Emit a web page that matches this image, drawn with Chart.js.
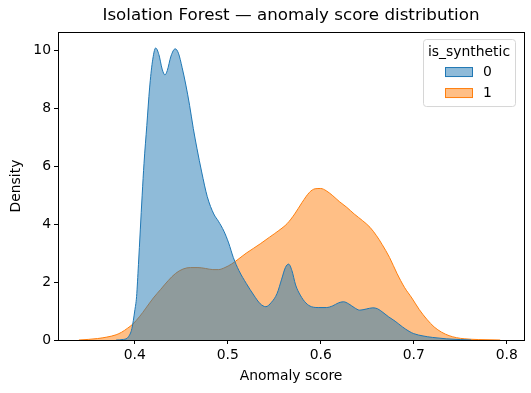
<!DOCTYPE html>
<html>
<head>
<meta charset="utf-8">
<script src="https://cdn.jsdelivr.net/npm/chart.js@4.4.0/dist/chart.umd.min.js"></script>
<style>
  html, body { margin: 0; padding: 0; background: #fff; }
  #wrap { width: 531px; height: 393px; }
</style>
</head>
<body>
<div id="wrap"><canvas id="kde-chart" width="531" height="393"></canvas></div>
<script>
// KDE curves (x = anomaly score, y = density)
const realScores = [0.380, 0.388, 0.393, 0.397, 0.400, 0.402, 0.404, 0.406, 0.408, 0.410, 0.413, 0.416, 0.419, 0.4225, 0.426, 0.4295, 0.4325, 0.435, 0.439, 0.4435, 0.447, 0.451, 0.455, 0.459, 0.463, 0.467, 0.472, 0.478, 0.485, 0.490, 0.496, 0.501, 0.506, 0.512, 0.520, 0.528, 0.535, 0.541, 0.547, 0.553, 0.558, 0.562, 0.5655, 0.569, 0.573, 0.578, 0.584, 0.590, 0.598, 0.606, 0.613, 0.619, 0.6245, 0.630, 0.636, 0.642, 0.649, 0.656, 0.661, 0.667, 0.673, 0.680, 0.688, 0.695, 0.700, 0.710, 0.720, 0.735, 0.750, 0.762];
const realDensity = [0, 0.02, 0.1, 0.4, 1.0, 1.5, 2.6, 3.8, 5.0, 6.1, 7.4, 8.7, 9.6, 10.08, 9.85, 9.35, 9.15, 9.3, 9.8, 10.05, 9.9, 9.4, 8.8, 8.1, 7.3, 6.6, 5.8, 4.95, 4.35, 4.1, 3.75, 3.35, 2.85, 2.4, 1.95, 1.55, 1.25, 1.15, 1.3, 1.6, 2.1, 2.5, 2.62, 2.4, 1.9, 1.55, 1.28, 1.15, 1.12, 1.12, 1.18, 1.28, 1.32, 1.25, 1.12, 1.03, 1.07, 1.11, 1.08, 0.95, 0.8, 0.65, 0.45, 0.3, 0.22, 0.14, 0.09, 0.04, 0.015, 0];

const synthScores = [0.340, 0.350, 0.360, 0.370, 0.380, 0.386, 0.392, 0.398, 0.405, 0.412, 0.420, 0.428, 0.436, 0.444, 0.452, 0.460, 0.468, 0.476, 0.484, 0.490, 0.497, 0.504, 0.511, 0.520, 0.528, 0.535, 0.545, 0.555, 0.564, 0.572, 0.580, 0.588, 0.594, 0.600, 0.606, 0.613, 0.620, 0.628, 0.636, 0.645, 0.653, 0.660, 0.666, 0.674, 0.682, 0.690, 0.698, 0.706, 0.714, 0.722, 0.730, 0.738, 0.746, 0.755, 0.770, 0.793];
const synthDensity = [0, 0.02, 0.05, 0.1, 0.18, 0.27, 0.4, 0.55, 0.8, 1.1, 1.45, 1.75, 2.05, 2.3, 2.45, 2.5, 2.5, 2.47, 2.43, 2.43, 2.5, 2.62, 2.78, 3.0, 3.17, 3.32, 3.55, 3.78, 4.02, 4.35, 4.75, 5.1, 5.22, 5.23, 5.15, 4.98, 4.78, 4.58, 4.35, 4.12, 3.89, 3.6, 3.3, 2.85, 2.3, 1.82, 1.45, 1.05, 0.72, 0.45, 0.27, 0.15, 0.08, 0.04, 0.015, 0];

const hueLabels = ['0', '1'];
const xTicks = [0.4, 0.5, 0.6, 0.7, 0.8];
const yTicks = [0, 2, 4, 6, 8, 10];

const blue = 'rgb(31,119,180)';
const orange = 'rgb(255,127,14)';
const font = 'DejaVu Sans';

const toPoints = (xs, ys) => xs.map((x, i) => ({ x: x, y: ys[i] }));

// frame on all four sides, like matplotlib spines
const frame = {
  id: 'frame',
  afterDatasetsDraw(chart) {
    const a = chart.chartArea, ctx = chart.ctx;
    ctx.save();
    ctx.strokeStyle = '#000';
    ctx.lineWidth = 1;
    ctx.strokeRect(Math.round(a.left) + 0.5, Math.round(a.top) + 0.5, Math.round(a.right - a.left), Math.round(a.bottom - a.top));
    ctx.restore();
  }
};

// legend box inside the axes, top right
const boxLegend = {
  id: 'boxLegend',
  afterDraw(chart) {
    const a = chart.chartArea, ctx = chart.ctx;
    const w = 92, h = 67;
    const x0 = a.right - 9 - w, y0 = a.top + 7;
    ctx.save();
    ctx.fillStyle = 'rgba(255,255,255,0.8)';
    ctx.strokeStyle = '#d6d6d6';
    ctx.lineWidth = 1;
    ctx.beginPath();
    ctx.roundRect(x0 + 0.5, y0 + 0.5, w, h, 3);
    ctx.fill();
    ctx.stroke();
    ctx.fillStyle = '#000';
    ctx.font = '13.9px "' + font + '"';
    ctx.textAlign = 'center';
    ctx.textBaseline = 'middle';
    ctx.fillText('is_synthetic', x0 + w / 2, y0 + 13);
    const colors = [blue, orange];
    hueLabels.forEach((lab, i) => {
      const cy = y0 + 33 + i * 21;
      ctx.fillStyle = colors[i].replace('rgb', 'rgba').replace(')', ',0.5)');
      ctx.fillRect(x0 + 22.5, cy - 4.5, 27, 9);
      ctx.strokeStyle = colors[i];
      ctx.strokeRect(x0 + 22.5, cy - 4.5, 27, 9);
      ctx.fillStyle = '#000';
      ctx.textAlign = 'left';
      ctx.fillText(lab, x0 + 60, cy);
    });
    ctx.restore();
  }
};

const options = {
  type: 'line',
  data: {
    datasets: [
      {
        label: hueLabels[1],
        data: toPoints(synthScores, synthDensity),
        borderColor: orange,
        backgroundColor: 'rgba(255,127,14,0.5)',
        borderWidth: 1,
        fill: 'origin',
        pointRadius: 0,
        cubicInterpolationMode: 'monotone',
        order: 2
      },
      {
        label: hueLabels[0],
        data: toPoints(realScores, realDensity),
        borderColor: blue,
        backgroundColor: 'rgba(31,119,180,0.5)',
        borderWidth: 1,
        fill: 'origin',
        pointRadius: 0,
        cubicInterpolationMode: 'monotone',
        order: 1
      }
    ]
  },
  options: {
    responsive: false,
    animation: false,
    layout: { padding: { left: 0, right: 7, top: 0, bottom: 0 } },
    plugins: {
      legend: { display: false },
      tooltip: { enabled: false },
      title: {
        display: true,
        text: 'Isolation Forest — anomaly score distribution',
        color: '#000',
        fullSize: false,
        font: { family: font, size: 16.7, weight: 'normal' },
        padding: { top: 6, bottom: 6 }
      }
    },
    scales: {
      x: {
        type: 'linear',
        min: 0.3175,
        max: 0.8186,
        afterBuildTicks: s => { s.ticks = xTicks.map(v => ({ value: v })); },
        afterFit: s => { s.height = 53; },
        grid: { display: true, drawOnChartArea: false, drawTicks: true, tickLength: 4, color: '#000' },
        border: { display: true, color: '#000' },
        ticks: { color: '#000', font: { family: font, size: 13.9 }, padding: 3, maxRotation: 0, callback: v => v.toFixed(1) },
        title: { display: true, text: 'Anomaly score', color: '#000', font: { family: font, size: 13.9 }, padding: { top: 2, bottom: 8.5 } }
      },
      y: {
        min: 0,
        max: 10.63,
        afterBuildTicks: s => { s.ticks = yTicks.map(v => ({ value: v })); },
        afterFit: s => { s.width = 58; },
        grid: { display: true, drawOnChartArea: false, drawTicks: true, tickLength: 4, color: '#000' },
        border: { display: true, color: '#000' },
        ticks: { color: '#000', font: { family: font, size: 13.9 }, padding: 3 },
        title: { display: true, text: 'Density', color: '#000', font: { family: font, size: 13.9 }, padding: { top: 8.5, bottom: 0 } }
      }
    }
  },
  plugins: [frame, boxLegend]
};

const canvas = document.getElementById('kde-chart').getContext('2d');
new Chart(canvas, options);
</script>
</body>
</html>
